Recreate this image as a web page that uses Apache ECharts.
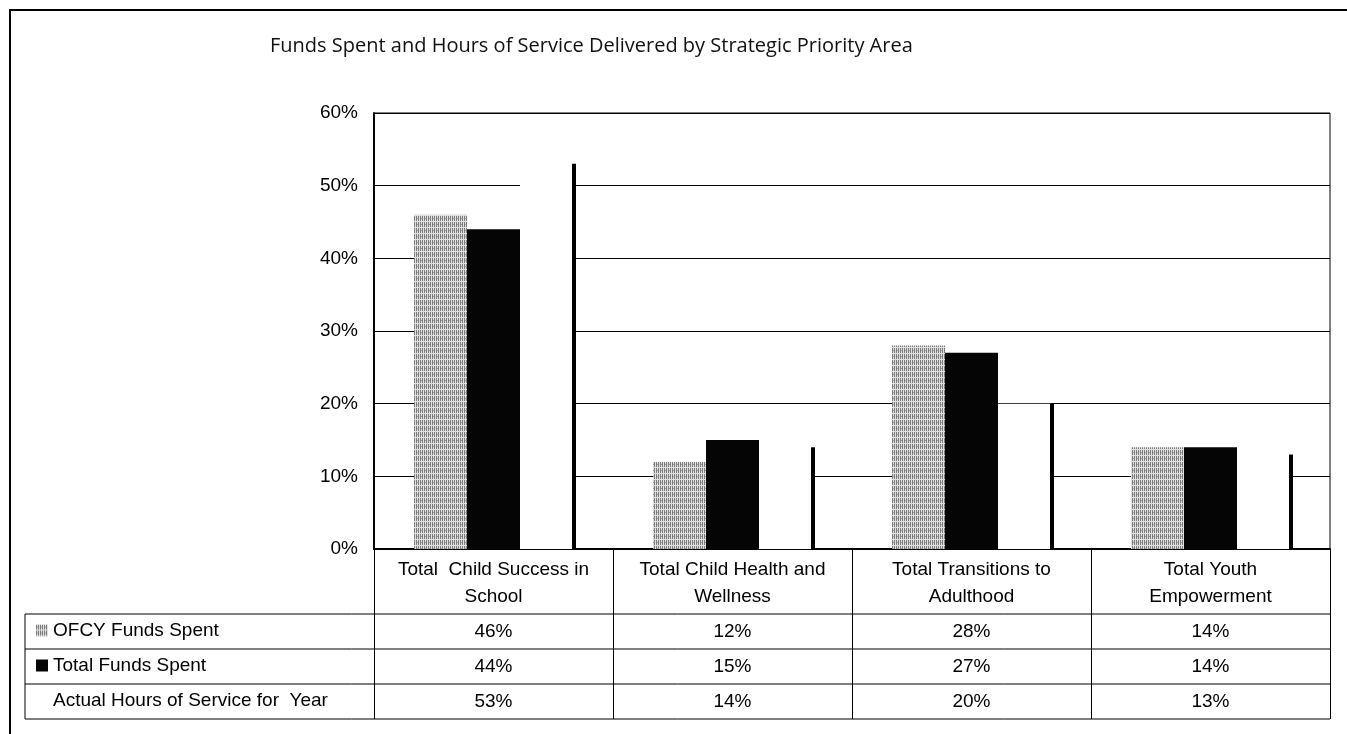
<!DOCTYPE html>
<html>
<head>
<meta charset="utf-8">
<title>Funds Spent and Hours of Service Delivered by Strategic Priority Area</title>
<script src="https://cdn.jsdelivr.net/npm/echarts@6/dist/echarts.min.js"></script>
<style>
  html, body { margin: 0; padding: 0; background: #fff; }
  #chart { width: 1347px; height: 734px; }
</style>
</head>
<body>
<div id="chart"></div>
<script>
// Strategic priority areas (header text wraps onto two lines)
const categories = [
  'Total  Child Success in\nSchool',
  'Total Child Health and\nWellness',
  'Total Transitions to\nAdulthood',
  'Total Youth\nEmpowerment'
];
const seriesNames = ['OFCY Funds Spent', 'Total Funds Spent', 'Actual Hours of Service for  Year'];
// Shares in percent
const ofcyFunds = [46, 12, 28, 14];
const totalFunds = [44, 15, 27, 14];
const actualHours = [53, 14, 20, 13];
const yTicks = [0, 10, 20, 30, 40, 50, 60];

const FONT = '"Liberation Sans", Arial, sans-serif';
const BAR_W = 53;

// Dithered grey fill for the OFCY bars
function greyPattern() {
  const c = document.createElement('canvas');
  c.width = 4; c.height = 6;
  const g = c.getContext('2d');
  g.fillStyle = '#e0e0e0';
  g.fillRect(0, 0, 4, 6);
  g.fillStyle = '#7c7c7c';
  for (let x = 0; x < 4; x += 2) {
    for (let y = 0; y < 6; y++) {
      if (y !== 5) g.fillRect(x, y, 1, 1);
    }
  }
  g.fillStyle = '#a4a4a4';
  g.fillRect(1, 2, 1, 1);
  return c;
}
const greyFill = { image: greyPattern(), repeat: 'repeat' };

const chart = echarts.init(document.getElementById('chart'), null, { renderer: 'canvas' });

const gridLeft = 374, gridRight = 17, gridTop = 113, gridBottom = 185;
const tableTop = 734 - gridBottom;      // x axis line
const headerH = 65, rowH = 35, tableLeft = 25;
const rowLines = [0, 1, 2, 3].map(i => tableTop + headerH + rowH * i);

// Column label: category header followed by one value per series
function columnLabel(value, index) {
  const lines = value.split('\n').map(s => '{h|' + s + '}');
  return lines.join('\n') + '\n{sp| }\n' +
    '{v|' + ofcyFunds[index] + '%}\n' +
    '{v|' + totalFunds[index] + '%}\n' +
    '{v|' + actualHours[index] + '%}';
}

// Dark edge along the right side of each hours bar
function hoursEdge(params, api) {
  const top = api.coord([api.value(0), api.value(1)]);
  const base = api.coord([api.value(0), 0]);
  const xRight = top[0] + BAR_W * 1.5;
  return {
    type: 'rect',
    shape: { x: xRight - 1, y: top[1], width: 4, height: base[1] - top[1] },
    style: { fill: '#000' }
  };
}

const option = {
  animation: false,
  backgroundColor: '#fff',
  title: {
    text: 'Funds Spent and Hours of Service Delivered by Strategic Priority Area',
    left: 265, top: 31,
    textStyle: { fontFamily: '"Open Sans", sans-serif', fontSize: 20, fontWeight: 'normal', color: '#111' }
  },
  grid: {
    left: gridLeft, right: gridRight, top: gridTop, bottom: gridBottom,
    show: true, borderColor: '#000', borderWidth: 1, containLabel: false
  },
  legend: {
    orient: 'vertical',
    left: 36, top: tableTop + headerH - 1,
    padding: 0, itemGap: 0,
    itemWidth: 12, itemHeight: 12,
    selectedMode: false,
    textStyle: { fontFamily: FONT, fontSize: 19, color: '#000', lineHeight: rowH },
    data: [
      { name: seriesNames[0], icon: 'rect' },
      { name: seriesNames[1], icon: 'rect' },
      { name: seriesNames[2], icon: 'rect',
        itemStyle: { color: 'rgba(0,0,0,0)', borderWidth: 0 } }
    ]
  },
  xAxis: {
    type: 'category',
    data: categories,
    axisLine: { show: true, lineStyle: { color: '#000', width: 2 } },
    axisTick: { show: true, length: headerH + rowH * 3, lineStyle: { color: '#000', width: 1 } },
    axisLabel: {
      interval: 0, margin: 7,
      formatter: columnLabel,
      rich: {
        h: { fontFamily: FONT, fontSize: 19, lineHeight: 27, color: '#000', align: 'center' },
        sp: { fontSize: 4, lineHeight: 4 },
        v: { fontFamily: FONT, fontSize: 19, lineHeight: rowH, color: '#000', align: 'center' }
      }
    },
    splitLine: { show: false }
  },
  yAxis: {
    type: 'value',
    min: 0, max: 60, interval: 10,
    axisLine: { show: true, lineStyle: { color: '#000', width: 2 } },
    axisTick: { show: false },
    axisLabel: {
      margin: 16,
      formatter: v => (yTicks.indexOf(v) >= 0 ? v + '%' : ''),
      fontFamily: FONT, fontSize: 19, color: '#000'
    },
    splitLine: { show: true, lineStyle: { color: '#000', width: 1 } }
  },
  series: [
    {
      name: seriesNames[0], type: 'bar', data: ofcyFunds,
      barWidth: BAR_W, barGap: '0%',
      itemStyle: { color: greyFill }
    },
    {
      name: seriesNames[1], type: 'bar', data: totalFunds,
      barWidth: BAR_W, barGap: '0%',
      itemStyle: { color: '#050505' }
    },
    {
      name: seriesNames[2], type: 'bar', data: actualHours,
      barWidth: BAR_W, barGap: '0%',
      itemStyle: { color: '#ffffff' }
    },
    {
      name: seriesNames[2], type: 'custom',
      data: actualHours.map((v, i) => [i, v]),
      renderItem: hoursEdge,
      z: 3
    }
  ],
  graphic: [
    // outer frame (top and left edges)
    { type: 'polyline', silent: true,
      shape: { points: [[10, 734], [10, 10], [1347, 10]] },
      style: { stroke: '#000', lineWidth: 2, fill: null } },
    // data table: row rules and left border of the label column
    ...rowLines.map(y => ({
      type: 'line', silent: true,
      shape: { x1: tableLeft, y1: y, x2: 1347 - gridRight, y2: y },
      style: { stroke: '#000', lineWidth: 1 }
    })),
    { type: 'line', silent: true,
      shape: { x1: tableLeft, y1: rowLines[0], x2: tableLeft, y2: rowLines[3] },
      style: { stroke: '#000', lineWidth: 1 } }
  ]
};

chart.setOption(option);
</script>
</body>
</html>
